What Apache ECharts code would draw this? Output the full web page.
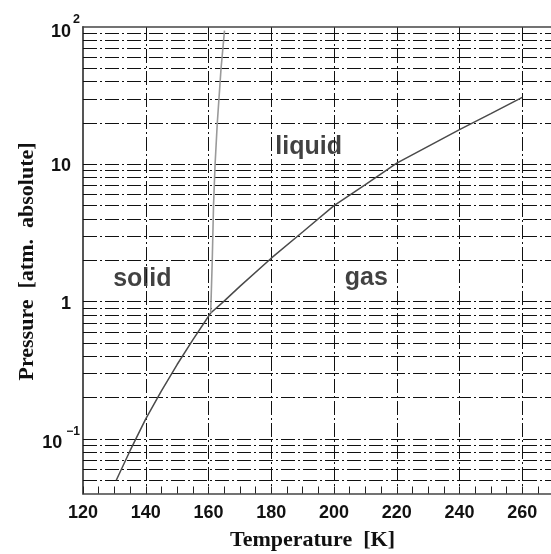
<!DOCTYPE html>
<html>
<head>
<meta charset="utf-8">
<script src="https://cdn.jsdelivr.net/npm/echarts@6/dist/echarts.min.js"></script>
<style>
html,body{margin:0;padding:0;background:#fff;}
#chart{width:551px;height:554px;}
</style>
</head>
<body>
<div id="chart"></div>
<script>
// Vapor-pressure curve (sublimation below the triple point, boiling above it)
const vaporT = [130.6, 135, 140, 145, 150, 155, 160.7, 164.8, 170, 180, 190, 200, 210, 220, 230, 240, 250, 260];
const vaporP = [0.05, 0.082, 0.140, 0.224, 0.348, 0.526, 0.826, 1.0, 1.29, 2.07, 3.21, 5.0, 7.1, 10.2, 13.5, 17.9, 23.4, 30.7];
// Melting curve
const meltT = [160.7, 161.2, 161.6, 162.1, 162.8, 164.0, 165.1];
const meltP = [0.826, 2, 5, 10, 20, 50, 94];
// Phase region labels
const regionNames = ['solid', 'liquid', 'gas'];
const regionT = [138.9, 191.9, 210.3];
const regionP = [1.45, 13.4, 1.48];
// Horizontal grid line values (log grid)
const hGridValues = [0.05,0.06,0.07,0.08,0.09,0.1,0.2,0.3,0.4,0.5,0.6,0.7,0.8,0.9,1,2,3,4,5,6,7,8,9,10,20,30,40,50,60,70,80,90];
// Axis settings
const xMin = 120, xMax = 280, xStep = 20;
const yMin = 0.04, yMax = 100;
const yTickLabels = {'2': '{b|10}{sup|2}', '1': '{bp|10}{sp|}', '0': '{bp|1}{sp|}', '-1': '{b|10}{supn|\u22121}'};

const chart = echarts.init(document.getElementById('chart'), null, {renderer: 'canvas'});
const dash = [14, 3, 2, 3];
const gridStyle = {color: '#111', width: 1, type: dash};
const sans = '"Liberation Sans", Arial, sans-serif';

const option = {
  animation: false,
  backgroundColor: '#fff',
  grid: {left: 83, top: 27, width: 502, height: 466.5, containLabel: false, outerBoundsMode: 'none'},
  xAxis: [{
    type: 'value', min: xMin, max: xMax, interval: xStep,
    axisLine: {show: true, onZero: false, lineStyle: {color: '#444', width: 1.7}},
    axisTick: {show: true, inside: true, length: 7, lineStyle: {color: '#222', width: 1}},
    minorTick: {show: true, splitNumber: 4, length: 7, lineStyle: {color: '#222', width: 1}},
    axisLabel: {
      fontFamily: sans, fontWeight: 'bold', fontSize: 18, color: '#111', margin: 11,
      formatter: v => (v <= 260 ? String(Math.round(v)) : '')
    },
    splitLine: {show: true, lineStyle: gridStyle}
  }, {
    type: 'value', min: xMin, max: xMax, interval: xStep, position: 'top',
    axisLine: {show: true, onZero: false, lineStyle: {color: '#444', width: 1.7}},
    axisTick: {show: false}, axisLabel: {show: false}, splitLine: {show: false}
  }],
  yAxis: {
    type: 'log', logBase: 10, min: yMin, max: yMax,
    axisLine: {show: true, onZero: false, lineStyle: {color: '#555', width: 2}},
    axisTick: {show: false},
    splitLine: {show: false},
    axisLabel: {
      margin: 3,
      fontFamily: sans, fontWeight: 'bold', fontSize: 18, color: '#111',
      formatter: function (v) {
        const e = Math.log10(v);
        const r = Math.round(e);
        if (Math.abs(e - r) > 1e-6) return '';
        return yTickLabels[String(r)] || '';
      },
      rich: {
        b: {fontFamily: sans, fontWeight: 'bold', fontSize: 18, color: '#111', verticalAlign: 'bottom'},
        bp: {fontFamily: sans, fontWeight: 'bold', fontSize: 18, color: '#111', verticalAlign: 'bottom', padding: [4, 0, 0, 0]},
        sup: {fontFamily: sans, fontWeight: 'bold', fontSize: 12.5, color: '#111', verticalAlign: 'top', padding: [0, 0, 15, 2]},
        supn: {fontFamily: sans, fontWeight: 'bold', fontSize: 12, color: '#111', verticalAlign: 'top', padding: [0, 0, 15, 4]},
        sp: {width: 9}
      }
    }
  },
  series: [{
    type: 'line', name: 'grid', data: [], z: 1, silent: true,
    markLine: {
      silent: true, symbol: ['none', 'none'], animation: false,
      label: {show: false},
      lineStyle: gridStyle,
      emphasis: {disabled: true},
      data: hGridValues.map(v => ({yAxis: v}))
    }
  }, {
    type: 'line', name: 'vapor', z: 5, showSymbol: false, smooth: false,
    lineStyle: {color: '#4a4a4a', width: 1.5},
    data: vaporT.map((t, i) => [t, vaporP[i]])
  }, {
    type: 'line', name: 'melt', z: 5, showSymbol: false, smooth: false,
    lineStyle: {color: '#9a9a9a', width: 1.6},
    data: meltT.map((t, i) => [t, meltP[i]])
  }, {
    type: 'scatter', name: 'regions', z: 6, symbolSize: 0, silent: true,
    label: {
      show: true, position: 'inside', formatter: '{b}',
      fontFamily: sans, fontWeight: 'bold', fontSize: 25, color: '#111'
    },
    data: regionNames.map((n, i) => ({name: n, value: [regionT[i], regionP[i]]}))
  }],
  graphic: [{
    type: 'text', x: 27, y: 261.5, rotation: Math.PI / 2,
    style: {text: 'Pressure  [atm.  absolute]', font: 'bold 22px "Liberation Serif", "Times New Roman", serif', fill: '#111', align: 'center', verticalAlign: 'middle'}
  }, {
    type: 'text', x: 312.5, y: 540.5,
    style: {text: 'Temperature  [K]', font: 'bold 22px "Liberation Serif", "Times New Roman", serif', fill: '#111', align: 'center', verticalAlign: 'middle'}
  }]
};
chart.setOption(option);
</script>
</body>
</html>
